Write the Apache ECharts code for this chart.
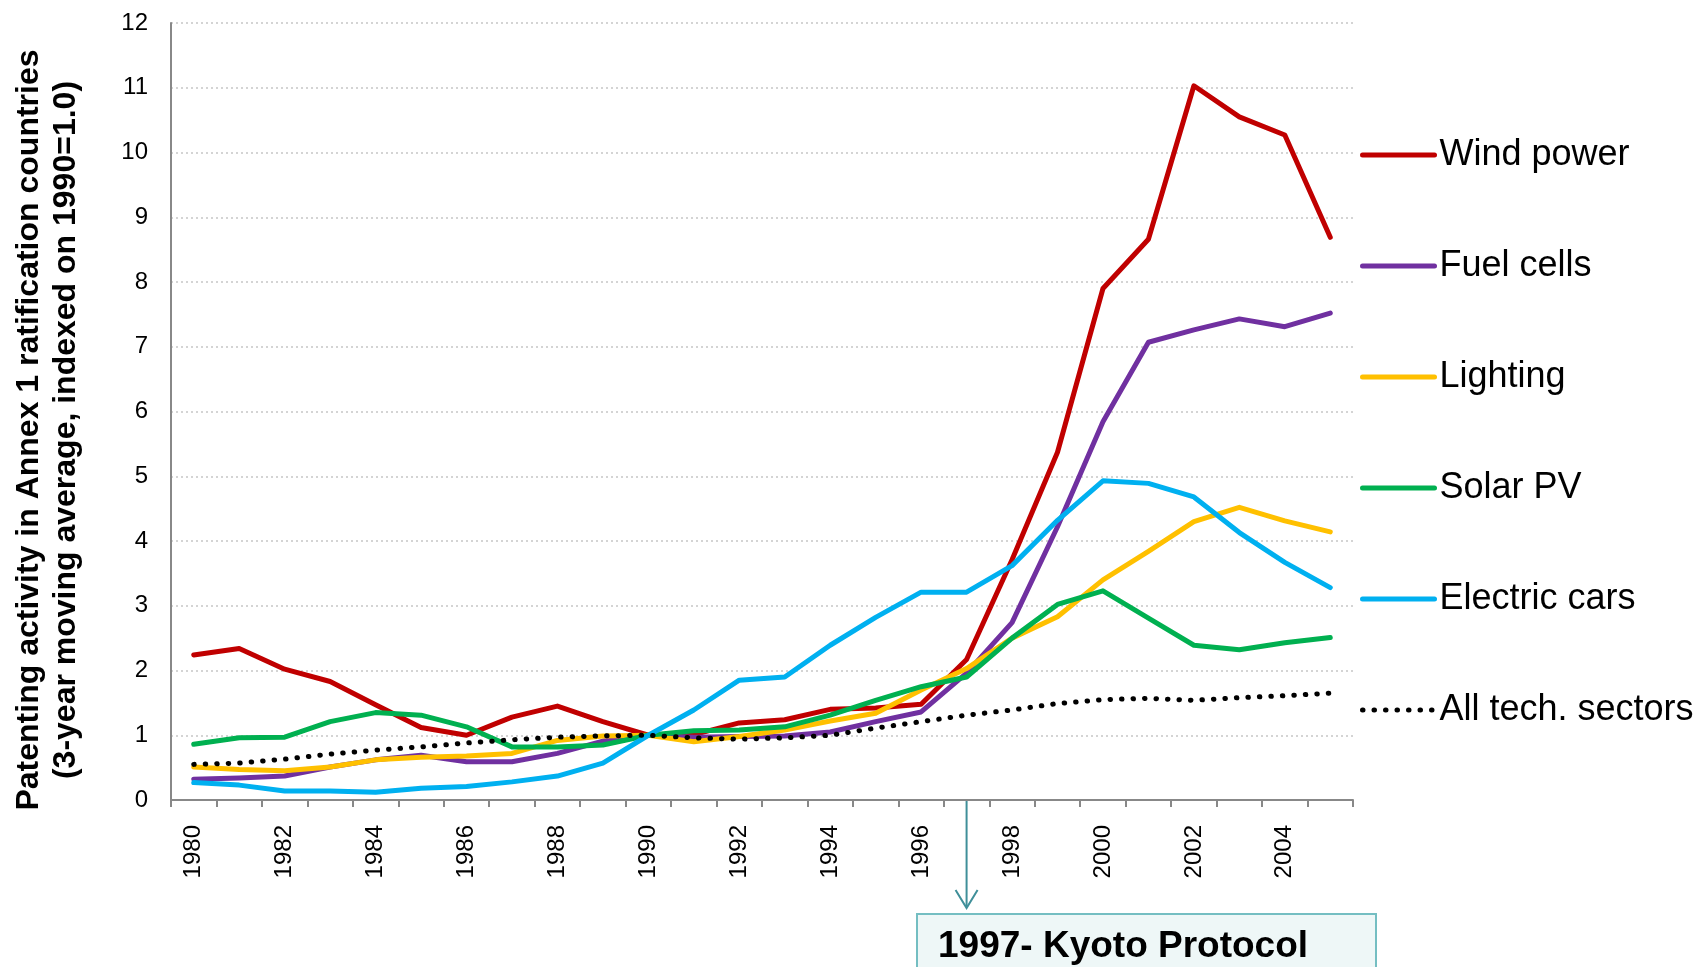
<!DOCTYPE html>
<html>
<head>
<meta charset="utf-8">
<script src="https://cdn.jsdelivr.net/npm/echarts@6/dist/echarts.min.js"></script>
<style>
  html, body { margin: 0; padding: 0; background: #fff; }
  #main { width: 1704px; height: 967px; }
</style>
</head>
<body>
<div id="main"></div>
<script>
// years on the x axis
var years = ['1980','1981','1982','1983','1984','1985','1986','1987','1988','1989',
             '1990','1991','1992','1993','1994','1995','1996','1997','1998','1999',
             '2000','2001','2002','2003','2004','2005'];

// index values (1990 = 1.0)
var windPower    = [2.24, 2.34, 2.02, 1.83, 1.47, 1.12, 1.00, 1.28, 1.45, 1.21, 1.00, 1.01, 1.19, 1.24, 1.40, 1.42, 1.48, 2.17, 3.71, 5.37, 7.90, 8.66, 11.03, 10.55, 10.27, 8.69];
var fuelCells    = [0.32, 0.34, 0.37, 0.51, 0.62, 0.69, 0.59, 0.59, 0.72, 0.91, 1.00, 0.97, 0.98, 0.99, 1.05, 1.21, 1.36, 1.96, 2.74, 4.22, 5.84, 7.07, 7.26, 7.43, 7.31, 7.52];
var lighting     = [0.51, 0.47, 0.45, 0.51, 0.62, 0.66, 0.68, 0.72, 0.92, 0.99, 1.00, 0.90, 0.98, 1.08, 1.22, 1.34, 1.70, 2.03, 2.50, 2.83, 3.40, 3.84, 4.30, 4.52, 4.31, 4.14];
var solarPV      = [0.86, 0.96, 0.97, 1.21, 1.35, 1.31, 1.13, 0.82, 0.82, 0.85, 1.00, 1.07, 1.08, 1.13, 1.31, 1.54, 1.75, 1.90, 2.50, 3.02, 3.23, 2.81, 2.39, 2.32, 2.43, 2.51];
var electricCars = [0.27, 0.23, 0.14, 0.14, 0.12, 0.18, 0.21, 0.28, 0.37, 0.57, 1.00, 1.39, 1.85, 1.90, 2.39, 2.82, 3.21, 3.21, 3.62, 4.32, 4.93, 4.89, 4.68, 4.13, 3.67, 3.28];
var allTech      = [0.55, 0.57, 0.63, 0.71, 0.77, 0.82, 0.88, 0.93, 0.97, 0.99, 1.00, 0.96, 0.94, 0.96, 1.00, 1.11, 1.21, 1.31, 1.39, 1.49, 1.55, 1.57, 1.54, 1.58, 1.61, 1.65];

var seriesNames = ['Wind power', 'Fuel cells', 'Lighting', 'Solar PV', 'Electric cars', 'All tech. sectors'];
var seriesColors = ['#C00000', '#7030A0', '#FFC000', '#00B050', '#00B0F0', '#000000'];
var seriesData = [windPower, fuelCells, lighting, solarPV, electricCars, allTech];

var yTitle = 'Patenting activity in Annex 1 ratification countries\n(3-year moving average, indexed on 1990=1.0)';
var kyotoYear = '1997';
var kyotoText = '1997- Kyoto Protocol';

var FONT = '"Liberation Sans", Arial, sans-serif';

var myChart = echarts.init(document.getElementById('main'));

var series = [];
for (var i = 0; i < seriesNames.length; i++) {
    var dotted = (i === seriesNames.length - 1);
    series.push({
        name: seriesNames[i],
        type: 'line',
        data: seriesData[i],
        symbol: 'none',
        smooth: false,
        color: seriesColors[i],
        lineStyle: {
            color: seriesColors[i],
            width: 5,
            type: dotted ? [0.5, 11] : 'solid',
            cap: 'round',
            join: 'round'
        },
        emphasis: { disabled: true }
    });
}

var option = {
    animation: false,
    backgroundColor: '#ffffff',
    grid: { left: 171, right: 351, top: 23, bottom: 167, containLabel: false, outerBoundsMode: 'none' },
    legend: {
        orient: 'vertical',
        left: 1355,
        top: 130,
        itemWidth: 72,
        itemHeight: 14,
        itemGap: 71,
        data: seriesNames,
        itemStyle: { opacity: 0 },   // hide the little marker, keep the line
        lineStyle: { width: 5 },
        textStyle: { fontFamily: FONT, fontSize: 36, color: '#000', lineHeight: 40 }
    },
    xAxis: {
        type: 'category',
        data: years,
        boundaryGap: true,
        axisLine: { show: true, lineStyle: { color: '#888888', width: 2 } },
        axisTick: { show: true, interval: 0, length: 7, lineStyle: { color: '#888888', width: 2 } },
        axisLabel: { interval: 1, rotate: 90, margin: 25, fontFamily: FONT, fontSize: 24, color: '#000' },
        splitLine: { show: false }
    },
    yAxis: {
        type: 'value',
        min: 0,
        max: 12,
        interval: 1,
        axisLine: { show: true, lineStyle: { color: '#888888', width: 2 } },
        axisTick: { show: false },
        axisLabel: { margin: 23, fontFamily: FONT, fontSize: 24, color: '#000' },
        splitLine: { show: true, lineStyle: { color: '#D4D4D4', width: 2, type: [2, 3] } }
    },
    series: series
};
myChart.setOption(option);

// Kyoto annotation, placed from the category axis
var kx = myChart.convertToPixel({ xAxisIndex: 0 }, kyotoYear);
var ky = myChart.convertToPixel({ yAxisIndex: 0 }, 0);
myChart.setOption({
    graphic: [
        {
            type: 'text',
            x: 48, y: 430,
            rotation: Math.PI / 2,
            style: {
                text: yTitle,
                align: 'center', verticalAlign: 'middle',
                fontFamily: FONT, fontWeight: 'bold', fontSize: 32, lineHeight: 37,
                fill: '#000'
            }
        },
        {
            type: 'line',
            shape: { x1: kx, y1: ky + 1, x2: kx, y2: ky + 107 },
            style: { stroke: '#3F8F99', lineWidth: 2 }
        },
        {
            type: 'polyline',
            shape: { points: [[kx - 11, ky + 90], [kx, ky + 108], [kx + 11, ky + 90]] },
            style: { stroke: '#3F8F99', lineWidth: 2, fill: null }
        },
        {
            type: 'rect',
            shape: { x: 917, y: 914, width: 459, height: 70 },
            style: { fill: '#EEF7F7', stroke: '#74BEC2', lineWidth: 2 }
        },
        {
            type: 'text',
            x: 938, y: 947,
            style: {
                text: kyotoText,
                verticalAlign: 'middle',
                fontFamily: FONT, fontWeight: 'bold', fontSize: 37, fill: '#000'
            }
        }
    ]
});
</script>
</body>
</html>
